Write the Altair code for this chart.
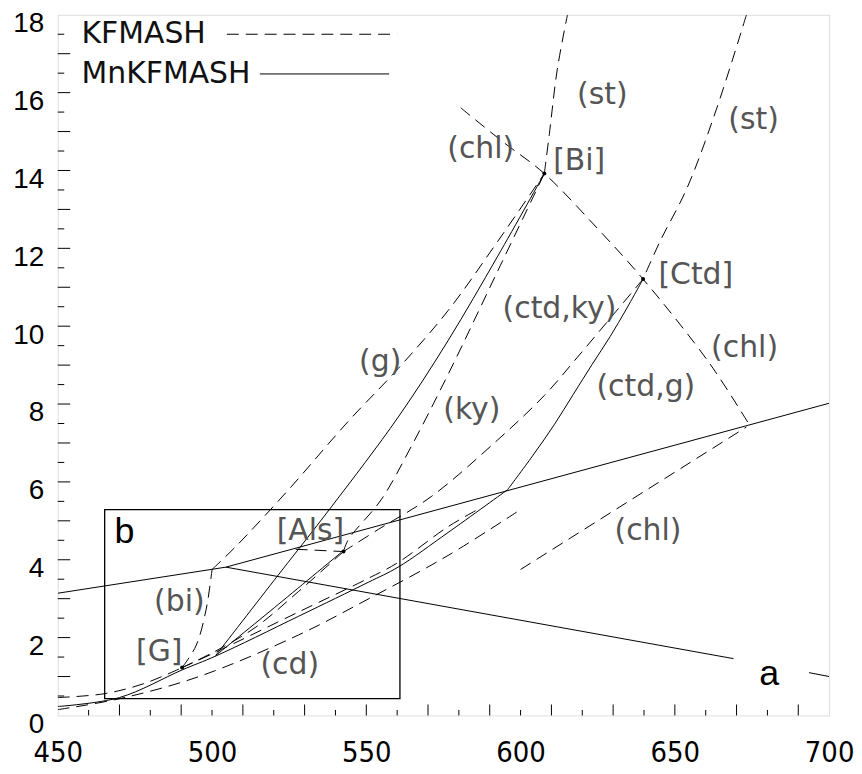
import altair as alt
import pandas as pd

# ---------------- data (T in deg C, P in kbar) ----------------
# KFMASH (dashed) curves
st_left_T = [607.7, 609.3, 611.9, 615.2]
st_left_P = [13.92, 14.92, 16.60, 18.0]
chl_upper_T = [580.6, 594.2, 607.7, 624.8, 639.7, 661.3, 674.2]
chl_upper_P = [15.61, 14.74, 13.92, 12.52, 11.21, 9.04, 7.46]
st_right_T = [673.2, 663.5, 653.9, 645.2, 639.7]
st_right_P = [18.0, 15.58, 13.54, 12.18, 11.21]
ctd_ky_T = [639.7, 630.3, 618.4, 607.7, 592.6, 571.0, 553.9, 542.6]
ctd_ky_P = [11.21, 10.32, 9.20, 8.22, 7.08, 5.62, 4.78, 4.21]
ky_T = [542.6, 544.2, 554.8, 564.5, 576.5, 592.6, 607.7]
ky_P = [4.21, 4.52, 5.54, 6.90, 8.76, 11.42, 13.92]
bi_T = [490.3, 494.8, 498.1, 500.0]
bi_P = [1.23, 1.79, 2.73, 3.75]
g_T = [500.0, 507.7, 524.8, 544.2, 560.3, 576.5, 592.6, 607.7]
g_P = [3.75, 4.34, 5.80, 7.56, 8.91, 10.40, 12.18, 13.92]
als_short_T = [527.1, 542.6]
als_short_P = [4.27, 4.21]
als_g_dash_T = [542.6, 528.1, 514.2, 501.3, 490.3]
als_g_dash_P = [4.21, 3.19, 2.27, 1.66, 1.23]
cd_T = [450.0, 470.0, 495.8, 528.1, 550.6, 576.5, 600.0]
cd_P = [0.15, 0.43, 1.00, 2.07, 2.99, 4.11, 5.29]
low_left_T = [450.0, 465.2, 478.0, 490.3]
low_left_P = [0.46, 0.56, 0.82, 1.23]
bundle_dash_T = [490.3, 501.3, 528.1, 550.6, 560.3, 576.5, 586.1]
bundle_dash_P = [1.23, 1.63, 2.66, 3.52, 3.93, 4.85, 5.29]
chl_lower_T = [600.0, 673.2]
chl_lower_P = [3.75, 7.41]

# MnKFMASH (solid) curves
ctd_g_T = [639.7, 634.5, 629.0, 623.2, 617.1, 611.0, 603.9, 595.8]
ctd_g_P = [11.21, 10.47, 9.73, 9.02, 8.25, 7.48, 6.67, 5.80]
bundle_T = [595.8, 576.5, 560.3, 550.6, 528.1, 501.3, 490.3, 470.0, 450.0]
bundle_P = [5.80, 4.70, 3.81, 3.42, 2.55, 1.53, 1.17, 0.46, 0.23]
g_bi_T = [501.2, 520.0, 538.7, 560.3, 576.5, 592.6, 607.7]
g_bi_P = [1.54, 3.46, 5.36, 7.66, 9.63, 11.80, 13.92]
als_g_T = [541.9, 521.6, 501.2]
als_g_P = [4.19, 2.86, 1.54]
upper_T = [450.0, 504.5, 700.0]
upper_P = [3.14, 3.81, 8.02]
a_line_T = [504.5, 669.0]
a_line_P = [3.81, 1.46]
a_tail_T = [693.5, 700.0]
a_tail_P = [1.10, 1.00]

# box b
box_T = [465.2, 560.9]
box_P = [0.43, 5.29]

# invariant points
inv_T = [490.3, 542.6, 607.7, 639.7]
inv_P = [1.23, 4.21, 13.92, 11.21]

# labels
label_text = ["(st)", "(st)", "(chl)", "[Bi]", "[Ctd]", "(ctd,ky)", "(chl)", "(ctd,g)",
              "(ky)", "(g)", "[Als]", "(bi)", "[G]", "(cd)", "(chl)"]
label_T = [626.5, 675.5, 587.1, 619.0, 656.8, 612.6, 672.6, 640.6,
           584.2, 554.5, 531.9, 489.4, 482.9, 525.2, 641.3]
label_P = [15.94, 15.30, 14.56, 14.23, 11.32, 10.45, 9.43, 8.43,
           7.84, 9.09, 4.73, 2.91, 1.63, 1.30, 4.75]

panel_text = ["a", "b"]
panel_T = [680.6, 471.6]
panel_P = [1.07, 4.70]

legend_text = ["KFMASH", "MnKFMASH"]
legend_T = [457.7, 457.7]
legend_P = [17.50, 16.48]
legend_dash_T = [504.8, 560.0]
legend_dash_P = [17.50, 17.50]
legend_solid_T = [515.5, 557.4]
legend_solid_P = [16.48, 16.48]

# axis ticks
x_labels = [450, 500, 550, 600, 650, 700]
y_labels = [0, 2, 4, 6, 8, 10, 12, 14, 16, 18]
x_long_ticks = [470, 490, 510, 530, 550, 570, 590, 610, 630, 650, 670, 690]
x_short_ticks = [460, 480, 500, 520, 540, 560, 580, 600, 620, 640, 660, 680]
y_long_ticks = list(range(1, 18))
y_short_ticks = [v + 0.5 for v in range(0, 18)]


# ---------------- build tables ----------------
def curves(named):
    rows = []
    for name, (ts, ps) in named.items():
        for i, (t, p) in enumerate(zip(ts, ps)):
            rows.append({"curve": name, "i": i, "T": t, "P": p})
    return pd.DataFrame(rows)


dashed_smooth_df = curves({
    "st_left": (st_left_T, st_left_P),
    "chl_upper": (chl_upper_T, chl_upper_P),
    "st_right": (st_right_T, st_right_P),
    "ctd_ky": (ctd_ky_T, ctd_ky_P),
    "ky": (ky_T, ky_P),
    "bi": (bi_T, bi_P),
    "g": (g_T, g_P),
    "als_g_dash": (als_g_dash_T, als_g_dash_P),
    "cd": (cd_T, cd_P),
    "low_left": (low_left_T, low_left_P),
    "bundle_dash": (bundle_dash_T, bundle_dash_P),
})
dashed_linear_df = curves({
    "als_short": (als_short_T, als_short_P),
    "chl_lower": (chl_lower_T, chl_lower_P),
    "legend_dash": (legend_dash_T, legend_dash_P),
})
solid_smooth_df = curves({
    "ctd_g": (ctd_g_T, ctd_g_P),
    "bundle": (bundle_T, bundle_P),
    "g_bi": (g_bi_T, g_bi_P),
    "als_g": (als_g_T, als_g_P),
})
solid_linear_df = curves({
    "upper": (upper_T, upper_P),
    "a_line": (a_line_T, a_line_P),
    "a_tail": (a_tail_T, a_tail_P),
    "legend_solid": (legend_solid_T, legend_solid_P),
})

W, H = 775, 704
XS = alt.Scale(domain=[450, 700], nice=False, zero=False)
YS = alt.Scale(domain=[0, 18], nice=False, zero=False)
XAX = alt.Axis(values=x_labels, ticks=False, domain=False, grid=False, labelFontSize=29,
               labelFont="'Liberation Sans Narrow', 'DejaVu Sans Condensed', 'Liberation Sans', sans-serif",
               labelColor="black", labelPadding=23, labelFlush=False)
YAX = alt.Axis(values=y_labels, ticks=False, domain=False, grid=False, labelFontSize=28,
               labelFont="Liberation Sans", labelColor="black", labelPadding=14,
               labelOffset=9, labelFlush=False)


def X(field="T"):
    return alt.X(f"{field}:Q", scale=XS, axis=XAX, title=None)


def Y(field="P"):
    return alt.Y(f"{field}:Q", scale=YS, axis=YAX, title=None)


def line_layer(df, dashed, smooth):
    kw = dict(color="black", strokeWidth=1, clip=True)
    if dashed:
        kw["strokeDash"] = [12, 7]
    if smooth:
        kw["interpolate"] = "catmull-rom"
    return alt.Chart(df).mark_line(**kw).encode(
        x=X(), y=Y(), detail="curve:N", order="i:Q")


dashed_s = line_layer(dashed_smooth_df, True, True)
dashed_l = line_layer(dashed_linear_df, True, False)
solid_s = line_layer(solid_smooth_df, False, True)
solid_l = line_layer(solid_linear_df, False, False)

box = alt.Chart(pd.DataFrame({"T": [box_T[0]], "T2": [box_T[1]],
                              "P": [box_P[0]], "P2": [box_P[1]]})).mark_rect(
    fillOpacity=0, stroke="black", strokeWidth=1.3
).encode(x=X(), x2="T2:Q", y=Y(), y2="P2:Q")

points = alt.Chart(pd.DataFrame({"T": inv_T, "P": inv_P})).mark_circle(
    color="black", size=16, opacity=1
).encode(x=X(), y=Y())

labels = alt.Chart(pd.DataFrame({"T": label_T, "P": label_P, "t": label_text})).mark_text(
    font="DejaVu Sans", fontSize=30, color="#555555", align="center", baseline="middle"
).encode(x=X(), y=Y(), text="t:N")

panels = alt.Chart(pd.DataFrame({"T": panel_T, "P": panel_P, "t": panel_text})).mark_text(
    font="Liberation Sans", fontSize=36, color="black", align="center", baseline="middle"
).encode(x=X(), y=Y(), text="t:N")

legend = alt.Chart(pd.DataFrame({"T": legend_T, "P": legend_P, "t": legend_text})).mark_text(
    font="DejaVu Sans", fontSize=30, color="#111111", align="left", baseline="middle"
).encode(x=X(), y=Y(), text="t:N")

xt_long = alt.Chart(pd.DataFrame({"T": x_long_ticks})).mark_rule(color="black", strokeWidth=1).encode(
    x=X(), y=alt.value(H), y2=alt.value(H - 11))
xt_short = alt.Chart(pd.DataFrame({"T": x_short_ticks})).mark_rule(color="black", strokeWidth=1).encode(
    x=X(), y=alt.value(H), y2=alt.value(H - 5.5))
yt_long = alt.Chart(pd.DataFrame({"P": y_long_ticks})).mark_rule(color="black", strokeWidth=1).encode(
    y=Y(), x=alt.value(0), x2=alt.value(12.5))
yt_short = alt.Chart(pd.DataFrame({"P": y_short_ticks})).mark_rule(color="black", strokeWidth=1).encode(
    y=Y(), x=alt.value(0), x2=alt.value(6.5))

chart = alt.layer(
    xt_long, xt_short, yt_long, yt_short, box,
    dashed_s, dashed_l, solid_s, solid_l, points, labels, panels, legend
).properties(
    width=W, height=H,
    padding={"left": 50, "top": 5, "right": 25, "bottom": 54},
    autosize=alt.AutoSizeParams(type="none"),
).configure_view(stroke="#333333", strokeWidth=1.5).configure(background="white")

chart.save("out.html", embed_options={"renderer": "svg", "actions": False})
